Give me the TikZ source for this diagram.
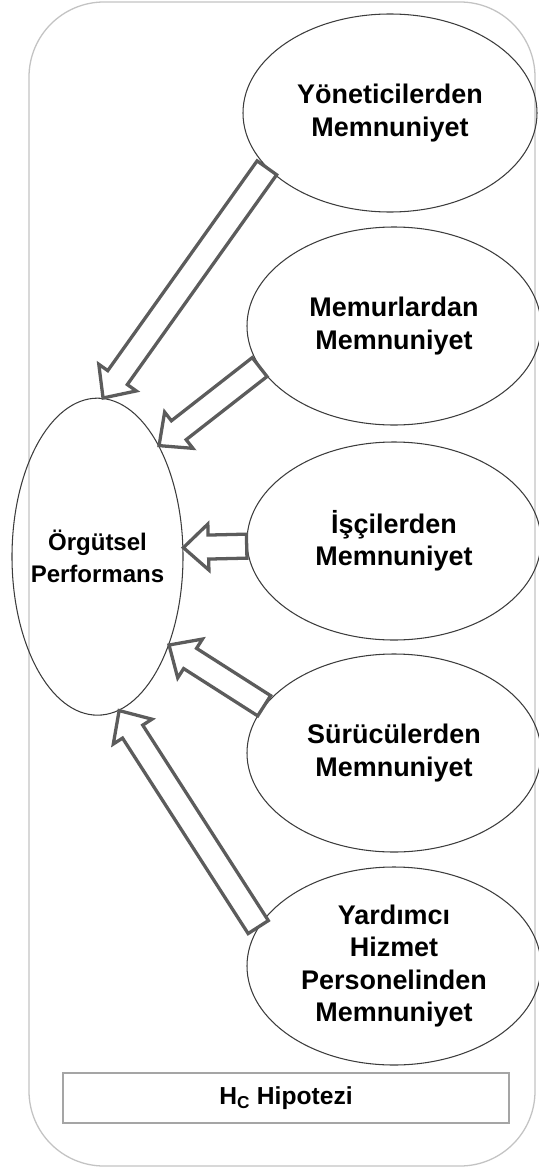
\documentclass[tikz,border=0pt]{standalone}
\usepackage{fontspec}
\setmainfont{Liberation Sans}
\usetikzlibrary{shapes.geometric,calc}
\definecolor{FrameGray}{RGB}{195,195,195}
\definecolor{BoxGray}{RGB}{165,165,165}
\definecolor{OvalLine}{RGB}{60,60,60}
\definecolor{ArrowGray}{RGB}{92,92,92}
\tikzset{
  oval/.style={draw=OvalLine,line width=0.9pt,ellipse,inner sep=0pt,
    minimum width=8.82cm,minimum height=5.94cm,align=center,
    font=\fontsize{23}{27.5}\selectfont\bfseries},
  centraloval/.style={draw=OvalLine,line width=0.9pt,ellipse,inner ysep=0pt,
    inner xsep=-0.3cm,minimum width=5.13cm,minimum height=9.51cm,align=center,
    font=\fontsize{20.5}{27.3}\selectfont\bfseries},
  hipbox/.style={draw=BoxGray,line width=1.6pt,fill=white,
    minimum width=13.38cm,minimum height=1.5cm,
    font=\fontsize{21}{25}\selectfont\bfseries},
  hollowarrow/.style={draw=ArrowGray,line width=2.8pt,fill=white,line join=miter,
    to path={
      ($(\tikztostart)!0.36cm!90:(\tikztotarget)$)
      -- ($($(\tikztotarget)!0.75cm!(\tikztostart)$)!0.36cm!90:(\tikztotarget)$)
      -- ($($(\tikztotarget)!0.75cm!(\tikztostart)$)!0.69cm!90:(\tikztotarget)$)
      -- (\tikztotarget)
      -- ($($(\tikztotarget)!0.75cm!(\tikztostart)$)!0.69cm!-90:(\tikztotarget)$)
      -- ($($(\tikztotarget)!0.75cm!(\tikztostart)$)!0.36cm!-90:(\tikztotarget)$)
      -- ($(\tikztostart)!0.36cm!-90:(\tikztotarget)$)
      -- cycle}}
}

\begin{document}
\begin{tikzpicture}
\useasboundingbox (0,0) rectangle (16.17,-35.13);

\draw[draw=FrameGray,line width=1.1pt,rounded corners=2.25cm]
  (0.87,-0.06) rectangle (16.05,-34.98);

\node[oval] (yon) at (11.70,-3.39) {Yöneticilerden\\Memnuniyet};
\node[oval] (mem) at (11.82,-9.78) {Memurlardan\\Memnuniyet};
\node[oval] (isc) at (11.82,-16.23) {İşçilerden\\Memnuniyet};
\node[oval] (sur) at (11.82,-22.59) {Sürücülerden\\Memnuniyet};
\node[oval] (yar) at (11.82,-28.98) {Yardımcı\\Hizmet\\Personelinden\\Memnuniyet};

\node[centraloval] (org) at (2.925,-16.70) {Örgütsel\\Performans};

\draw[hollowarrow] (yon.204) to (org.88);
\draw[hollowarrow] (mem.197) to (org.61);
\draw[hollowarrow] (isc.182) to (org.6);
\draw[hollowarrow] (sur.160) to (org.309);
\draw[hollowarrow] (yar.164) to (org.278);

\node[hipbox] (hip) at (8.58,-32.94) {H\textsubscript{C} Hipotezi};

\end{tikzpicture}
\end{document}
